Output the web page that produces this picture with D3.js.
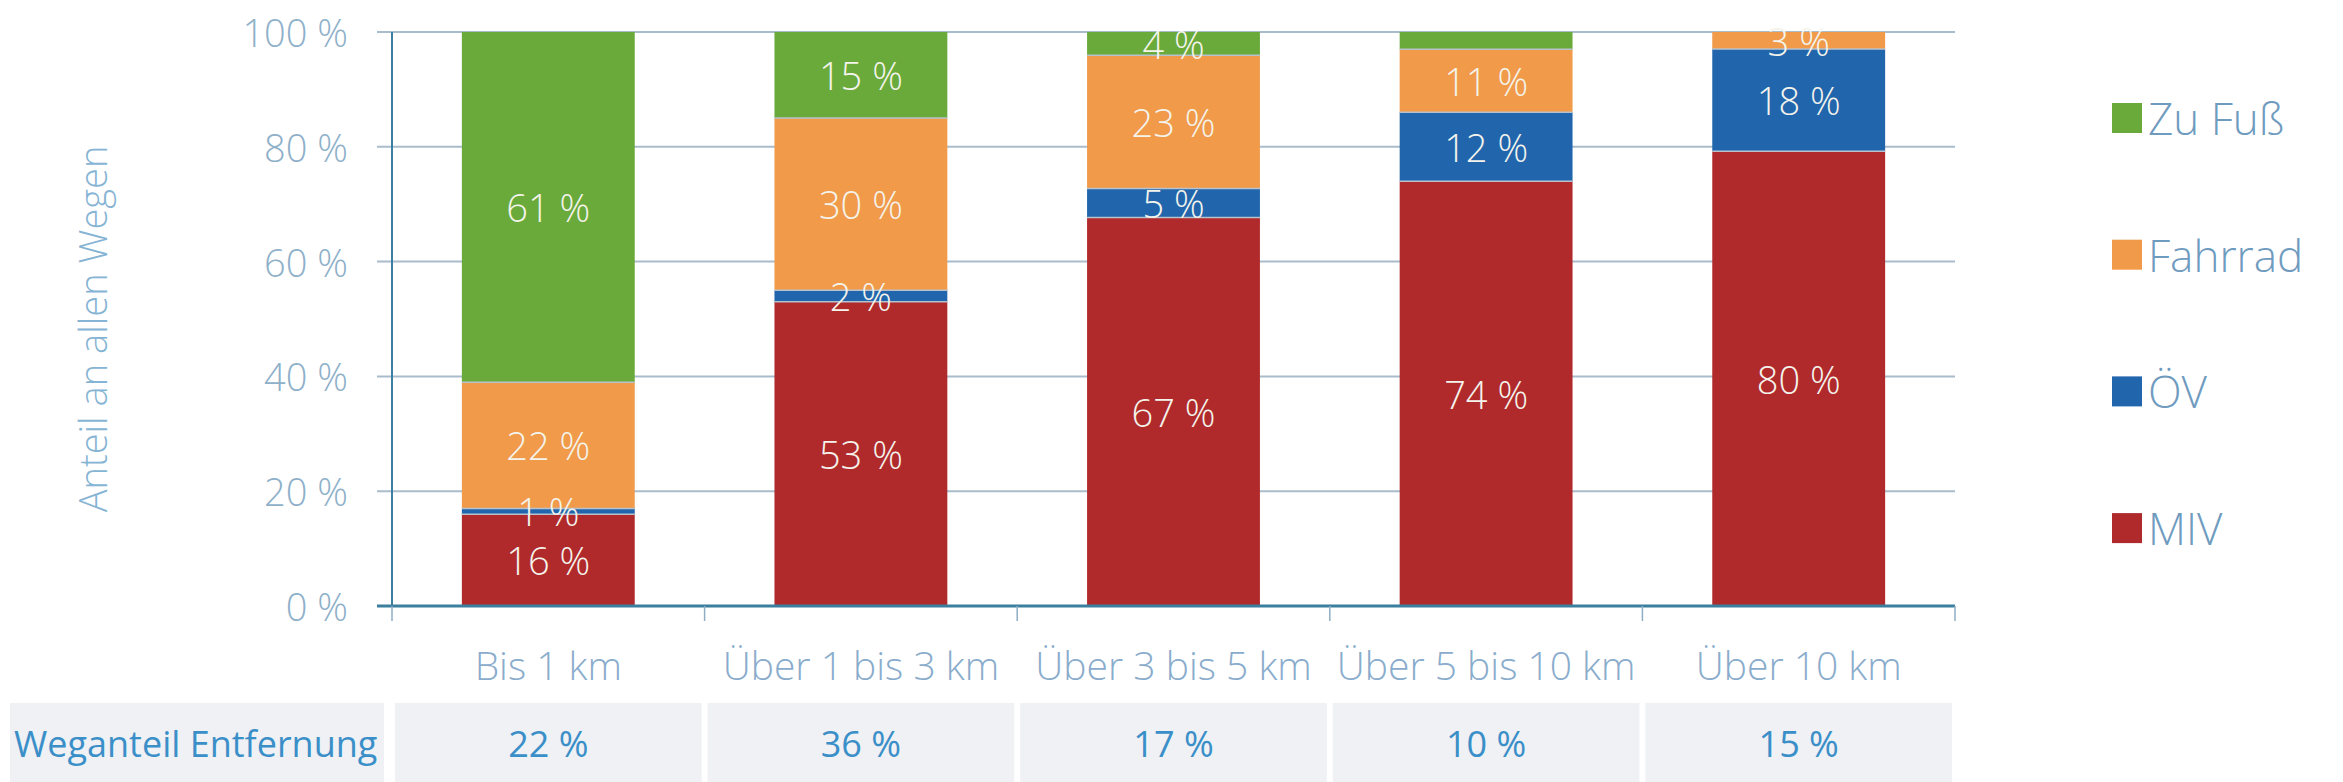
<!DOCTYPE html>
<html>
<head>
<meta charset="utf-8">
<script src="https://cdn.jsdelivr.net/npm/d3@7"></script>
<style>
  body { margin: 0; background: #fff; }
  svg { display: block; font-family: "Open Sans", sans-serif; }
</style>
</head>
<body>
<svg id="chart" width="2343" height="782"></svg>
<script>
// Distance classes
const categories = ["Bis 1 km", "Über 1 bis 3 km", "Über 3 bis 5 km", "Über 5 bis 10 km", "Über 10 km"];

// Share per mode (percent of trips in each distance class)
const miv     = [16, 53, 67, 74, 80];
const oev     = [1, 2, 5, 12, 18];
const fahrrad = [22, 30, 23, 11, 3];
const zuFuss  = [61, 15, 4, 3, 0];

// labels the original leaves out
const hiddenLabels = [["Zu Fuß", "Über 5 bis 10 km"]];

// bottom row: share of all trips by distance
const weganteil = [22, 36, 17, 10, 15];

const yTicks = [0, 20, 40, 60, 80, 100];

const modes = [
  { key: "MIV", values: miv, color: "#b02a2c" },
  { key: "ÖV", values: oev, color: "#2166ac" },
  { key: "Fahrrad", values: fahrrad, color: "#f09a4a" },
  { key: "Zu Fuß", values: zuFuss, color: "#6aaa3a" }
];

const svg = d3.select("#chart");
const plotLeft = 392, plotRight = 1955, plotTop = 32, plotBottom = 606;

const x = d3.scaleBand().domain(categories).range([plotLeft, plotRight]).paddingInner(0.447).paddingOuter(0.2235);
const xBand = d3.scaleBand().domain(categories).range([plotLeft, plotRight]);
const y = d3.scaleLinear().domain([0, 100]).range([plotBottom, plotTop]);

// build table for stack
const rows = categories.map((c, i) => {
  const r = { cat: c };
  modes.forEach(m => r[m.key] = m.values[i]);
  return r;
});
const stack = d3.stack().keys(modes.map(m => m.key)).offset(d3.stackOffsetExpand);
const series = stack(rows);

// gridlines
svg.append("g")
  .selectAll("line")
  .data(yTicks.filter(t => t > 0))
  .join("line")
    .attr("x1", plotLeft - 15).attr("x2", plotRight)
    .attr("y1", d => y(d)).attr("y2", d => y(d))
    .attr("stroke", "#a9bccb").attr("stroke-width", 2);

// y tick labels
svg.append("g")
  .selectAll("text")
  .data(yTicks)
  .join("text")
    .attr("x", 348).attr("y", d => y(d))
    .attr("text-anchor", "end").attr("dominant-baseline", "central")
    .attr("font-size", 38).attr("font-weight", 300)
    .attr("fill", "#8eb0c9")
    .text(d => d + " %");

// y title
svg.append("text")
  .attr("transform", `translate(92,${(plotTop + plotBottom) / 2 + 10}) rotate(-90)`)
  .attr("text-anchor", "middle").attr("dominant-baseline", "central")
  .attr("font-size", 38).attr("font-weight", 300)
  .attr("fill", "#86b4d4")
  .text("Anteil an allen Wegen");

// bars
const layer = svg.append("g")
  .selectAll("g")
  .data(series)
  .join("g")
    .attr("fill", (d, i) => modes[i].color);

layer.selectAll("rect")
  .data(d => d)
  .join("rect")
    .attr("x", d => x(d.data.cat))
    .attr("width", x.bandwidth())
    .attr("y", d => y(d[1] * 100))
    .attr("height", d => y(d[0] * 100) - y(d[1] * 100));

// thin seams between segments
svg.append("g")
  .selectAll("line")
  .data(series.slice(1).flatMap(s => s.filter(d => d[1] > d[0] && d[0] > 0)))
  .join("line")
    .attr("x1", d => x(d.data.cat)).attr("x2", d => x(d.data.cat) + x.bandwidth())
    .attr("y1", d => y(d[0] * 100)).attr("y2", d => y(d[0] * 100))
    .attr("stroke", "#b7c2cc").attr("stroke-width", 1.5);

// value labels
const labelData = series.flatMap((s, i) => s.map(d => ({ mode: modes[i].key, cat: d.data.cat, v: d.data[modes[i].key], y0: d[0], y1: d[1] })))
  .filter(d => d.v > 0 && !hiddenLabels.some(h => h[0] === d.mode && h[1] === d.cat));

svg.append("g")
  .selectAll("text")
  .data(labelData)
  .join("text")
    .attr("x", d => x(d.cat) + x.bandwidth() / 2)
    .attr("y", d => y((d.y0 + d.y1) / 2 * 100))
    .attr("text-anchor", "middle").attr("dominant-baseline", "central")
    .attr("font-size", 38).attr("font-weight", 300)
    .attr("fill", "#f4f4ec")
    .text(d => d.v + " %");

// axes lines
svg.append("line")
  .attr("x1", plotLeft).attr("x2", plotLeft).attr("y1", plotTop).attr("y2", plotBottom)
  .attr("stroke", "#3d7fa3").attr("stroke-width", 2);
svg.append("line")
  .attr("x1", plotLeft - 15).attr("x2", plotRight).attr("y1", plotBottom).attr("y2", plotBottom)
  .attr("stroke", "#3b7f9e").attr("stroke-width", 3);

// category ticks
svg.append("g")
  .selectAll("line")
  .data(categories.map(c => xBand(c)).concat([plotRight]))
  .join("line")
    .attr("x1", d => d).attr("x2", d => d)
    .attr("y1", plotBottom).attr("y2", plotBottom + 15)
    .attr("stroke", "#8faec4").attr("stroke-width", 1.5);

// category labels
svg.append("g")
  .selectAll("text")
  .data(categories)
  .join("text")
    .attr("x", d => xBand(d) + xBand.bandwidth() / 2)
    .attr("y", 664)
    .attr("text-anchor", "middle").attr("dominant-baseline", "central")
    .attr("font-size", 39).attr("font-weight", 300)
    .attr("fill", "#8aaccc")
    .text(d => d);

// legend
const legend = svg.append("g")
  .selectAll("g")
  .data(modes.slice().reverse())
  .join("g")
    .attr("transform", (d, i) => `translate(2112,${118 + i * 136.7})`);
legend.append("rect")
  .attr("x", 0).attr("y", -15).attr("width", 30).attr("height", 30)
  .attr("fill", d => d.color);
legend.append("text")
  .attr("x", 36).attr("y", 0)
  .attr("dominant-baseline", "central")
  .attr("font-size", 44).attr("font-weight", 300)
  .attr("fill", "#6f9bbf")
  .text(d => d.key);

// bottom table row
const table = svg.append("g");
table.append("rect")
  .attr("x", 10).attr("y", 703).attr("width", 374).attr("height", 79)
  .attr("fill", "#eff1f5");
table.append("text")
  .attr("x", 14).attr("y", 743)
  .attr("dominant-baseline", "central")
  .attr("font-size", 36).attr("font-weight", 400)
  .attr("fill", "#3b8fc8")
  .text("Weganteil Entfernung");
table.selectAll(".cell")
  .data(categories)
  .join("rect")
    .attr("class", "cell")
    .attr("x", d => xBand(d) + 3)
    .attr("y", 703)
    .attr("width", xBand.bandwidth() - 6)
    .attr("height", 79)
    .attr("fill", "#eff1f5");
table.selectAll(".val")
  .data(categories)
  .join("text")
    .attr("class", "val")
    .attr("x", d => xBand(d) + xBand.bandwidth() / 2)
    .attr("y", 743)
    .attr("text-anchor", "middle").attr("dominant-baseline", "central")
    .attr("font-size", 36).attr("font-weight", 400)
    .attr("fill", "#3b8fc8")
    .text((d, i) => weganteil[i] + " %");
</script>
</body>
</html>
